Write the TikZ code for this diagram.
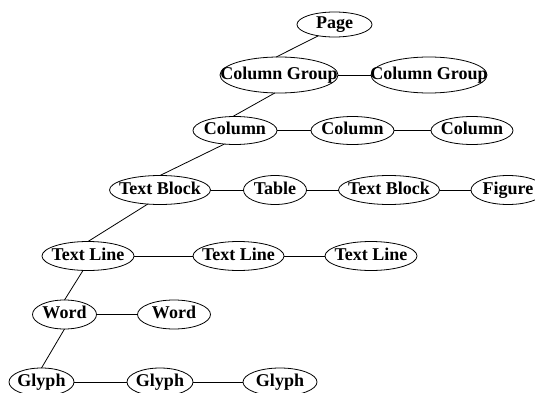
\documentclass[tikz,border=0pt]{standalone}
\usepackage{fontspec}
\setmainfont{Liberation Serif}
\usetikzlibrary{shapes.geometric}
\newcommand\lbl[1]{\makebox[0pt]{#1}}
\tikzset{
  nd/.style={draw, ellipse, line width=0.8pt, inner sep=0pt, outer sep=0pt,
    minimum height=28pt, text height=12pt, text depth=4pt,
    font=\fontsize{18}{18}\selectfont\bfseries},
  ln/.style={line width=0.8pt}
}
\begin{document}
\begin{tikzpicture}[x=1pt,y=1pt]
\useasboundingbox (0,0) rectangle (535,392);
\node[nd, minimum width=75pt, minimum height=25pt] (page) at (334.5,367.5) {\lbl{Page}};
\node[nd, minimum width=118pt, minimum height=36pt] (cg1) at (279,317) {\lbl{Column Group}};
\node[nd, minimum width=116pt, minimum height=36pt] (cg2) at (429,317) {\lbl{Column Group}};
\node[nd, minimum width=84pt] (col1) at (235,261.5) {\lbl{Column}};
\node[nd, minimum width=83pt] (col2) at (352.5,261.5) {\lbl{Column}};
\node[nd, minimum width=82pt] (col3) at (472,261.5) {\lbl{Column}};
\node[nd, minimum width=101pt, minimum height=29pt] (tb1) at (160,202) {\lbl{Text Block}};
\node[nd, minimum width=63pt, minimum height=29pt] (tab) at (275,202) {\lbl{Table}};
\node[nd, minimum width=101pt, minimum height=29pt] (tb2) at (389,202) {\lbl{Text Block}};
\node[nd, minimum width=74pt, minimum height=29pt] (fig) at (508,202) {\lbl{Figure}};
\node[nd, minimum width=92pt, minimum height=29pt] (tl1) at (88,136) {\lbl{Text Line}};
\node[nd, minimum width=91pt, minimum height=29pt] (tl2) at (238.5,136) {\lbl{Text Line}};
\node[nd, minimum width=92pt, minimum height=29pt] (tl3) at (371,136) {\lbl{Text Line}};
\node[nd, minimum width=64pt, minimum height=29pt] (w1) at (64.5,77.5) {\lbl{Word}};
\node[nd, minimum width=73pt, minimum height=29pt] (w2) at (174,77.5) {\lbl{Word}};
\node[nd, minimum width=65pt] (g1) at (41.5,10) {\lbl{Glyph}};
\node[nd, minimum width=66pt] (g2) at (160,10) {\lbl{Glyph}};
\node[nd, minimum width=74pt] (g3) at (280,10) {\lbl{Glyph}};
% vertical tree edges
\draw[ln] (page.215) -- (cg1.99);
\draw[ln] (cg1.257) -- (col1.99);
\draw[ln] (col1.232) -- (tb1.90);
\draw[ln] (tb1.229) -- (tl1.90);
\draw[ln] (tl1.251) -- (w1.90);
\draw[ln] (w1.270) -- (g1.90);
% horizontal edges
\draw[ln] (cg1) -- (cg2);
\draw[ln] (col1) -- (col2);
\draw[ln] (col2) -- (col3);
\draw[ln] (tb1) -- (tab);
\draw[ln] (tab) -- (tb2);
\draw[ln] (tb2) -- (fig);
\draw[ln] (tl1) -- (tl2);
\draw[ln] (tl2) -- (tl3);
\draw[ln] (w1) -- (w2);
\draw[ln] (g1) -- (g2);
\draw[ln] (g2) -- (g3);
\end{tikzpicture}
\end{document}
